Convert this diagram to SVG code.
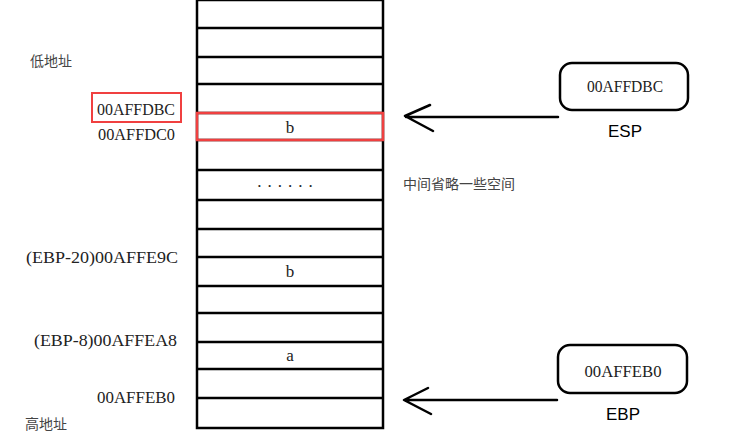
<svg xmlns="http://www.w3.org/2000/svg" width="729" height="444" viewBox="0 0 729 444">
<style>
.cell{fill:#fff;stroke:#000;stroke-width:2.5}
.addr{font-family:"Liberation Serif",serif;font-size:17px;fill:#222;text-anchor:end}
.val{font-family:"Liberation Serif",serif;font-size:17px;fill:#222;text-anchor:middle}
.cn{font-family:"Noto Sans CJK SC",sans-serif;font-size:14px;fill:#444}
.reg{font-family:"Liberation Sans","Noto Sans",sans-serif;font-size:17px;fill:#000;text-anchor:middle}
.box{fill:#fff;stroke:#000;stroke-width:2.5}
.arrow{fill:none;stroke:#000;stroke-width:2.5;stroke-linecap:round;stroke-linejoin:round}
</style>
<rect width="729" height="444" fill="#fff"/>
<g id="stack">
<rect class="cell" x="197" y="0" width="186" height="428"/>
<path d="M197 28H383M197 57H383M197 84H383M197 113H383M197 140H383M197 170H383M197 200H383M197 229H383M197 257H383M197 286H383M197 313H383M197 342H383M197 369H383M197 398H383" stroke="#000" stroke-width="2.5"/>
<rect x="197" y="113" width="186" height="27" fill="none" stroke="#f04040" stroke-width="2.5"/>
<text class="val" x="290" y="133">b</text>
<text class="val" x="288" y="187" letter-spacing="6">......</text>
<text class="val" x="290" y="277">b</text>
<text class="val" x="290" y="361">a</text>
</g>
<g id="labels">
<text class="cn" x="30" y="66">低地址</text>
<rect x="92" y="93" width="89" height="29" fill="none" stroke="#f04040" stroke-width="2"/>
<text class="addr" x="175" y="115" textLength="78" lengthAdjust="spacingAndGlyphs">00AFFDBC</text>
<text class="addr" x="175" y="140" textLength="77" lengthAdjust="spacingAndGlyphs">00AFFDC0</text>
<text class="addr" x="178" y="263" textLength="152" lengthAdjust="spacingAndGlyphs">(EBP-20)00AFFE9C</text>
<text class="addr" x="177" y="346" textLength="143" lengthAdjust="spacingAndGlyphs">(EBP-8)00AFFEA8</text>
<text class="addr" x="175" y="403" textLength="78" lengthAdjust="spacingAndGlyphs">00AFFEB0</text>
<text class="cn" x="25" y="429">高地址</text>
<text class="cn" x="403" y="189">中间省略一些空间</text>
</g>
<g id="esp">
<rect class="box" x="560" y="63" width="128" height="47" rx="12"/>
<text class="val" x="625" y="92" font-size="15" textLength="76" lengthAdjust="spacingAndGlyphs">00AFFDBC</text>
<text class="reg" x="625" y="137">ESP</text>
</g>
<g id="ebp">
<rect class="box" x="558" y="345" width="129" height="48" rx="12"/>
<text class="val" x="623" y="377" font-size="15" textLength="77" lengthAdjust="spacingAndGlyphs">00AFFEB0</text>
<text class="reg" x="623" y="420">EBP</text>
</g>
<g id="connectors">
<path class="arrow" d="M558 117H406M430 105L405 116L433 131"/>
<path class="arrow" d="M557 400H405M428 388L404 400L431 414"/>
</g>
</svg>
